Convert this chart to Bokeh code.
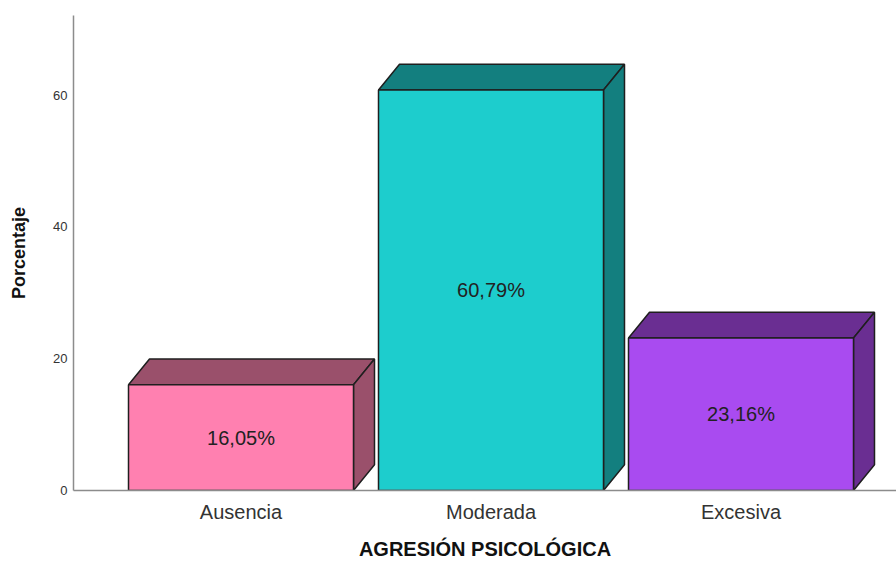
import numpy as np
from bokeh.plotting import figure
from bokeh.models import Range1d, FixedTicker, ColumnDataSource
from bokeh.embed import file_html
from bokeh.resources import INLINE
from bokeh.core.properties import value

# ---- data ----
categories = ["Ausencia", "Moderada", "Excesiva"]
percentages = [16.05, 60.79, 23.16]
front_colors = ["#FF80B0", "#1DCDCD", "#A94BF0"]
shade_colors = ["#9A506B", "#137F7F", "#6A2E92"]
y_ticks = [0, 20, 40, 60]
x_title = "AGRESIÓN PSICOLÓGICA"
y_title = "Porcentaje"

# ---- style constants ----
BAR_W = 0.9
DX = 0.084   # 3D depth (x data units)
DY = 3.9     # 3D depth (y data units)
EDGE = "#1f1f1f"
FONT = "Liberation Sans"

xs = np.arange(len(categories), dtype=float)
labels = [f"{v:.2f}".replace(".", ",") + "%" for v in percentages]

p = figure(width=896, height=562, output_backend="svg", toolbar_location=None,
           x_range=Range1d(-0.67, 2.622), y_range=Range1d(0, 72.1),
           min_border_left=73, min_border_right=0, min_border_top=15,
           min_border_bottom=72)
p.outline_line_color = None
p.xgrid.visible = False
p.ygrid.visible = False
p.background_fill_color = "white"
p.border_fill_color = "white"

# top faces
top_x = [[x - BAR_W / 2, x + BAR_W / 2, x + BAR_W / 2 + DX, x - BAR_W / 2 + DX] for x in xs]
top_y = [[v, v, v + DY, v + DY] for v in percentages]
p.patches(top_x, top_y, fill_color=shade_colors, line_color=EDGE, line_width=1.5)

# side faces
side_x = [[x + BAR_W / 2, x + BAR_W / 2 + DX, x + BAR_W / 2 + DX, x + BAR_W / 2] for x in xs]
side_y = [[0, DY, v + DY, v] for v in percentages]
p.patches(side_x, side_y, fill_color=shade_colors, line_color=EDGE, line_width=1.5)

# front faces
src = ColumnDataSource(dict(x=xs, top=percentages, color=front_colors, label=labels,
                            mid=[v / 2 for v in percentages]))
p.vbar(x="x", top="top", bottom=0, width=BAR_W, fill_color="color",
       line_color=EDGE, line_width=1.5, source=src)

p.text(x="x", y="mid", text="label", source=src, text_align="center",
       text_baseline="middle", text_font=value(FONT), text_font_size="20px",
       text_color="#222222")

# axes
p.yaxis.ticker = FixedTicker(ticks=y_ticks)
p.yaxis.major_tick_line_color = None
p.yaxis.minor_tick_line_color = None
p.yaxis.major_tick_out = 0
p.yaxis.major_tick_in = 0
p.yaxis.minor_tick_out = 0
p.yaxis.major_label_text_font = FONT
p.yaxis.major_label_text_font_size = "13px"
p.yaxis.major_label_text_color = "#333333"
p.yaxis.major_label_standoff = 6
p.yaxis.axis_line_color = "#8c8c8c"
p.yaxis.axis_line_width = 1.5
p.yaxis.axis_label = y_title
p.yaxis.axis_label_text_font = FONT
p.yaxis.axis_label_text_font_style = "bold"
p.yaxis.axis_label_text_font_size = "18px"
p.yaxis.axis_label_text_color = "#111111"
p.yaxis.axis_label_standoff = 21

p.xaxis.ticker = FixedTicker(ticks=list(xs))
p.xaxis.major_label_overrides = {float(x): c for x, c in zip(xs, categories)}
p.xaxis.major_tick_line_color = None
p.xaxis.minor_tick_line_color = None
p.xaxis.major_tick_out = 0
p.xaxis.major_tick_in = 0
p.xaxis.minor_tick_out = 0
p.xaxis.major_label_text_font = FONT
p.xaxis.major_label_text_font_size = "20px"
p.xaxis.major_label_text_color = "#333333"
p.xaxis.major_label_standoff = 10
p.xaxis.axis_line_color = "#8c8c8c"
p.xaxis.axis_line_width = 1.5
p.xaxis.axis_label = x_title
p.xaxis.axis_label_text_font = FONT
p.xaxis.axis_label_text_font_style = "bold"
p.xaxis.axis_label_text_font_size = "20px"
p.xaxis.axis_label_text_color = "#111111"
p.xaxis.axis_label_standoff = 12

open("out.html", "w").write(file_html(p, INLINE))
